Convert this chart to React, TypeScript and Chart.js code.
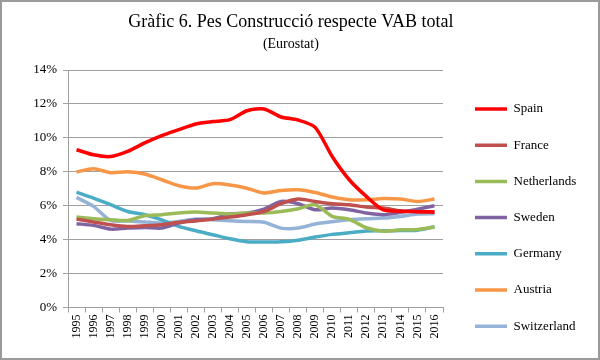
import React, { useEffect, useRef } from 'react';
import { Chart, registerables } from 'chart.js';

Chart.register(...registerables);

const years = ['1995', '1996', '1997', '1998', '1999', '2000', '2001', '2002', '2003', '2004', '2005', '2006', '2007', '2008', '2009', '2010', '2011', '2012', '2013', '2014', '2015', '2016'];

const spain = [9.3, 9.0, 8.9, 9.2, 9.7, 10.13, 10.48, 10.82, 10.96, 11.07, 11.6, 11.7, 11.23, 11.05, 10.62, 8.9, 7.53, 6.55, 5.75, 5.67, 5.65, 5.63];
const france = [5.21, 5.04, 4.88, 4.78, 4.82, 4.88, 5.02, 5.1, 5.21, 5.33, 5.47, 5.66, 6.12, 6.39, 6.25, 6.12, 6.06, 5.92, 5.86, 5.7, 5.65, 5.62];
const netherlands = [5.33, 5.23, 5.17, 5.13, 5.41, 5.47, 5.57, 5.63, 5.57, 5.51, 5.57, 5.57, 5.66, 5.82, 6.06, 5.37, 5.2, 4.7, 4.5, 4.58, 4.6, 4.74];
const sweden = [4.94, 4.84, 4.62, 4.68, 4.72, 4.68, 4.98, 5.17, 5.23, 5.51, 5.57, 5.8, 6.25, 6.12, 5.76, 5.86, 5.76, 5.57, 5.47, 5.6, 5.8, 6.0];
const germany = [6.8, 6.45, 6.06, 5.66, 5.47, 5.17, 4.78, 4.52, 4.29, 4.05, 3.88, 3.86, 3.88, 3.97, 4.15, 4.31, 4.41, 4.51, 4.52, 4.54, 4.56, 4.76];
const austria = [7.99, 8.18, 7.95, 8.0, 7.87, 7.53, 7.18, 7.04, 7.3, 7.22, 7.03, 6.75, 6.9, 6.94, 6.78, 6.51, 6.35, 6.35, 6.43, 6.39, 6.25, 6.39];
const switzerland = [6.49, 5.96, 5.13, 5.1, 5.04, 4.98, 5.07, 5.21, 5.17, 5.11, 5.07, 5.02, 4.68, 4.68, 4.92, 5.06, 5.17, 5.23, 5.27, 5.37, 5.51, 5.53];

const seriesNames = ['Spain', 'France', 'Netherlands', 'Sweden', 'Germany', 'Austria', 'Switzerland'];
const seriesValues = [spain, france, netherlands, sweden, germany, austria, switzerland];
const seriesColors = ['#FF0000', '#C0504D', '#9BBB59', '#8064A2', '#4BACC6', '#F79646', '#95B3D7'];

const titleText = 'Gràfic 6. Pes Construcció respecte VAB total';
const subtitleText = '(Eurostat)';

const FONT = "'Liberation Serif', 'Times New Roman', serif";
const GRID = '#a0a0a0';

export default function App() {
  const ref = useRef<HTMLCanvasElement | null>(null);

  useEffect(() => {
    if (!ref.current) return;
    const chart = new Chart(ref.current, {
      type: 'line',
      data: {
        labels: years,
        datasets: seriesNames.map((name, i) => ({
          label: name,
          data: seriesValues[i],
          borderColor: seriesColors[i],
          backgroundColor: seriesColors[i],
          borderWidth: 3.5,
          pointRadius: 0,
          tension: 0.25,
          fill: false,
        })),
      },
      options: {
        responsive: false,
        animation: false,
        layout: { padding: { left: 0, right: 18.2, top: 0, bottom: 0 } },
        plugins: {
          tooltip: { enabled: false },
          title: {
            display: true,
            text: titleText,
            color: '#000',
            font: { family: FONT, size: 18, weight: 'normal', lineHeight: 1.2 },
            padding: { top: 9.2, bottom: 0 },
          },
          subtitle: {
            display: true,
            text: subtitleText,
            color: '#000',
            font: { family: FONT, size: 14, weight: 'normal', lineHeight: 1.2 },
            padding: { top: 2.8, bottom: 17.6 },
          },
          legend: {
            position: 'right',
            align: 'start',
            maxWidth: 128,
            title: {
              display: true,
              text: ' ',
              font: { family: FONT, size: 10, lineHeight: 1 },
              padding: { top: 67.3, bottom: 0 },
            },
            labels: {
              usePointStyle: true,
              pointStyle: 'line',
              pointStyleWidth: 32,
              boxHeight: 13,
              padding: 23.2,
              color: '#000',
              font: { family: FONT, size: 13 },
            },
          },
        },
        scales: {
          x: {
            offset: true,
            grid: {
              display: true,
              offset: true,
              drawOnChartArea: false,
              tickLength: 5,
              color: GRID,
            },
            border: { display: true, color: GRID, width: 1 },
            ticks: {
              autoSkip: false,
              minRotation: 90,
              maxRotation: 90,
              padding: 2,
              color: '#000',
              font: { family: FONT, size: 12 },
            },
            afterFit: (s: any) => { s.height = 50.5; },
          },
          y: {
            min: 0,
            max: 14,
            ticks: {
              stepSize: 2,
              padding: 6,
              color: '#000',
              font: { family: FONT, size: 13 },
              callback: (v: any) => v + '%',
            },
            grid: { color: GRID, tickLength: 5, lineWidth: 1 },
            border: { display: true, color: GRID, width: 1 },
            afterFit: (s: any) => { s.width = 66; },
          },
          y2: {
            position: 'right',
            display: true,
            grid: { display: false, drawTicks: false },
            border: { display: false },
            ticks: { display: false },
            afterFit: (s: any) => { s.width = 8.8; },
          },
        },
      },
    });
    return () => chart.destroy();
  }, []);

  return (
    <div
      style={{
        position: 'absolute',
        left: 0,
        top: 0,
        width: 600,
        height: 360,
        boxSizing: 'border-box',
        border: '2px solid #9a9a9a',
        background: '#fff',
      }}
    >
      <canvas ref={ref} width={596} height={356} style={{ display: 'block' }} />
    </div>
  );
}
